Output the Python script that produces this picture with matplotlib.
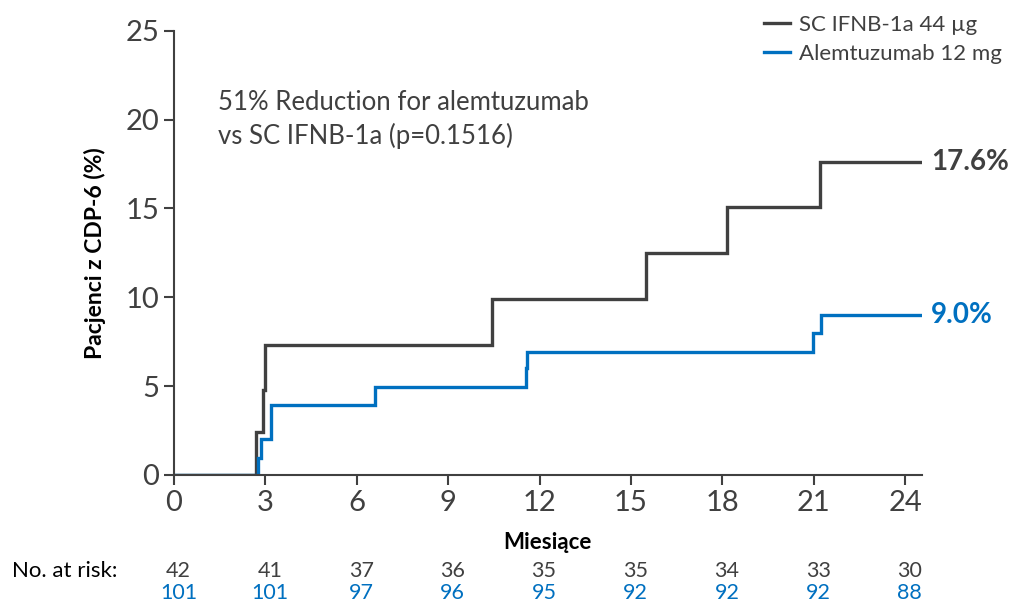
import matplotlib.pyplot as plt
import numpy as np

plt.rcParams['font.family'] = ['Lato', 'DejaVu Sans']

# Kaplan-Meier step data (months, cumulative % with CDP-6)
ifn_times = [0, 2.69, 2.93, 2.98, 10.45, 15.48, 18.16, 21.2, 24.55]
ifn_pct = [0, 2.44, 4.8, 7.32, 9.9, 12.49, 15.08, 17.6, 17.6]
alem_times = [0, 2.77, 2.87, 3.2, 6.59, 11.54, 11.6, 20.98, 21.23, 24.55]
alem_pct = [0, 0.94, 2.0, 3.94, 4.97, 6.0, 6.94, 7.97, 9.0, 9.0]

risk_months = [0, 3, 6, 9, 12, 15, 18, 21, 24]
risk_ifn = [42, 41, 37, 36, 35, 35, 34, 33, 30]
risk_alem = [101, 101, 97, 96, 95, 92, 92, 92, 88]

dark = '#404040'
blue = '#0070C0'

fig = plt.figure(figsize=(10.17, 6.03), dpi=100)
ax = fig.add_axes([0.171, 0.2123, 0.7355, 0.7368])

ax.step(ifn_times, ifn_pct, where='post', color=dark, lw=2.4,
        label='SC IFNB-1a 44 µg', solid_joinstyle='miter')
ax.step(alem_times, alem_pct, where='post', color=blue, lw=2.4,
        label='Alemtuzumab 12 mg', solid_joinstyle='miter')

ax.set_xlim(0, 24.55)
ax.set_ylim(0, 25)
ax.set_xticks(risk_months)
ax.set_yticks([0, 5, 10, 15, 20, 25])
ax.spines[['top', 'right']].set_visible(False)
for s in ['left', 'bottom']:
    ax.spines[s].set_color(dark)
    ax.spines[s].set_linewidth(1.5)
ax.tick_params(colors=dark, labelcolor=dark, labelsize=21, width=1.5, length=7)

ax.set_ylabel('Pacjenci z CDP-6 (%)', fontsize=16.5, fontweight='bold', color='black', labelpad=14)
ax.set_xlabel('Miesiące', fontsize=16, fontweight='bold', color='black', labelpad=12)

ax.text(1.45, 20.0, '51% Reduction for alemtuzumab\nvs SC IFNB-1a (p=0.1516)',
        fontsize=18.5, color=dark, va='center', linespacing=1.35)

ax.text(24.85, ifn_pct[-1], f'{ifn_pct[-1]:.1f}%', fontsize=20, fontweight='bold',
        color=dark, va='center', clip_on=False)
ax.text(24.85, alem_pct[-1], f'{alem_pct[-1]:.1f}%', fontsize=20, fontweight='bold',
        color=blue, va='center', clip_on=False)

fig.legend(loc='upper right', bbox_to_anchor=(1.005, 1.008), frameon=False,
           fontsize=16, handlelength=1.2, handletextpad=0.4, labelspacing=0.4,
           labelcolor=dark)

# numbers at risk under the x axis
fig.text(0.012, 1 - 571 / 603, 'No. at risk:', fontsize=16, color='black', va='center')
for m, a, b in zip(risk_months, risk_ifn, risk_alem):
    ax.annotate(str(a), xy=(m + 0.15, 0), xycoords='data', xytext=(0, -69),
                textcoords='offset points', ha='center', va='center',
                fontsize=15.5, color=dark, annotation_clip=False)
    ax.annotate(str(b), xy=(m + 0.15, 0), xycoords='data', xytext=(0, -85),
                textcoords='offset points', ha='center', va='center',
                fontsize=15.5, color=blue, annotation_clip=False)

fig.savefig('out.png', dpi=100)
